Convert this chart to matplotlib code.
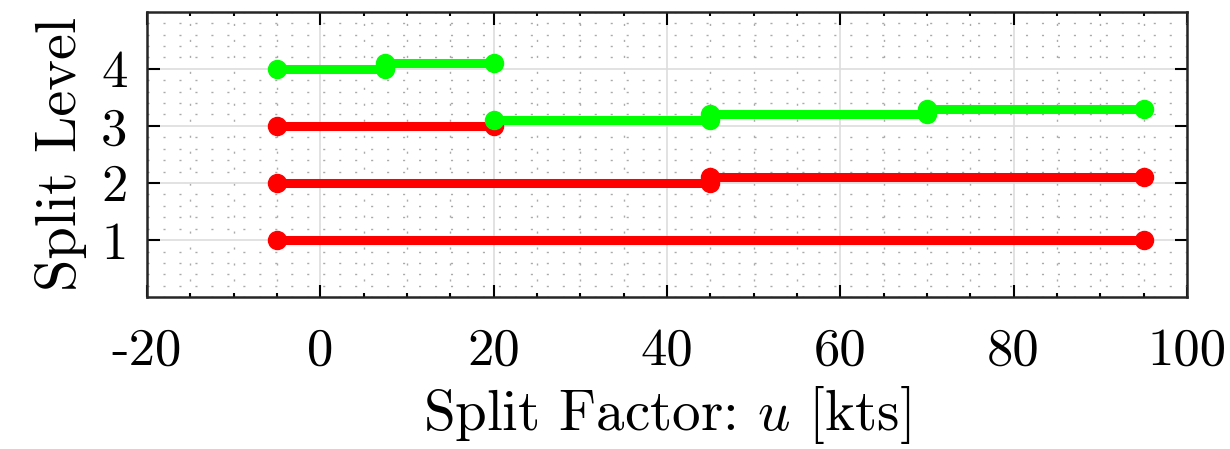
import numpy as np
import matplotlib.pyplot as plt
from matplotlib.ticker import MultipleLocator

plt.rcParams['font.family'] = 'serif'
plt.rcParams['font.serif'] = ['cmr10']
plt.rcParams['mathtext.fontset'] = 'cm'
plt.rcParams['axes.unicode_minus'] = False

# split segments: start, end, level (offset shows the split), colour
seg_start = [-5, -5, 45, -5, 20, 45, 70, -5, 7.5]
seg_end = [95, 45, 95, 20, 45, 70, 95, 7.5, 20]
seg_level = [1, 2, 2.1, 3, 3.1, 3.2, 3.3, 4, 4.1]
seg_color = ['red', 'red', 'red', 'red', 'lime', 'lime', 'lime', 'lime', 'lime']

fig = plt.figure(figsize=(12.3, 4.49), dpi=100)
ax = fig.add_axes([0.1195, 0.338, 0.8455, 0.636])

for x0, x1, y, c in zip(seg_start, seg_end, seg_level, seg_color):
    ax.plot([x0, x1], [y, y], color=c, lw=6.5, marker='o', ms=13,
            solid_capstyle='butt', zorder=3)

ax.set_xlim(-20, 100)
ax.set_ylim(0, 5)
ax.xaxis.set_major_locator(MultipleLocator(20))
ax.xaxis.set_minor_locator(MultipleLocator(5))
ax.set_yticks([1, 2, 3, 4])
ax.yaxis.set_minor_locator(MultipleLocator(0.2))

ax.grid(True, which='major', color='#dddddd', lw=1.2)
ax.grid(True, which='minor', color='#aaaaaa', lw=1.0, linestyle=(0, (1.5, 10)))
ax.set_axisbelow(True)

ax.tick_params(which='both', direction='in', top=True, right=True,
               labelsize=38, width=1.5)
ax.tick_params(axis='x', which='major', length=9, pad=22)
ax.tick_params(axis='y', which='major', length=9, pad=14)
ax.tick_params(axis='x', which='minor', length=3)
ax.tick_params(axis='y', which='minor', length=0)
for s in ax.spines.values():
    s.set_linewidth(1.8)
    s.set_color('#262626')

ax.set_xlabel(r'Split Factor: $u$ [kts]', fontsize=41, labelpad=7)
ax.set_ylabel('Split Level', fontsize=42, labelpad=10)

fig.savefig('out.png', dpi=100)
